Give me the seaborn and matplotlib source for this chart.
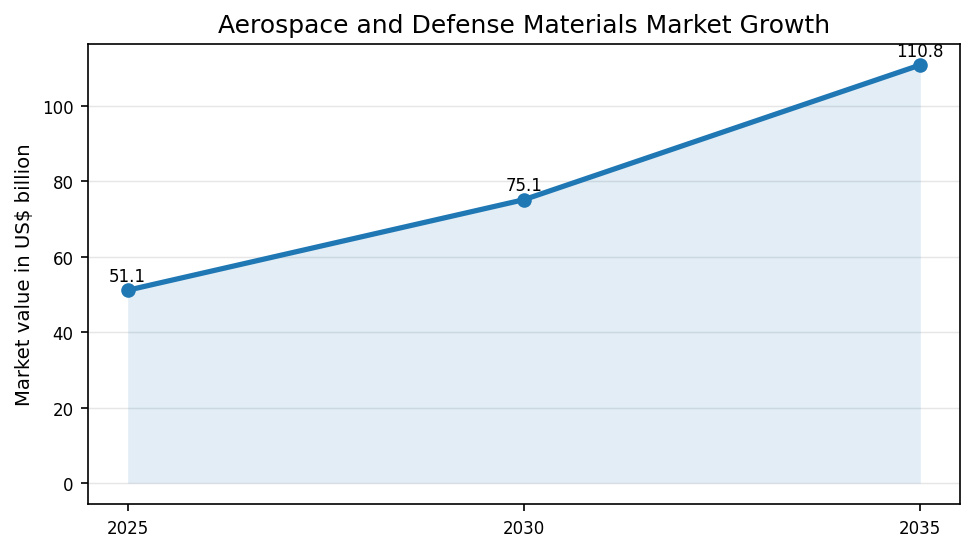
import numpy as np
import pandas as pd
import seaborn as sns
from matplotlib import pyplot as plt

years = [2025, 2030, 2035]
values = [51.1, 75.1, 110.8]

df = pd.DataFrame({"Year": years, "Value": values})

fig, ax = plt.subplots(figsize=(6.5, 3.6733), dpi=150)
fig.subplots_adjust(left=0.0903, right=0.9846, top=0.9183, bottom=0.0835)

ax.fill_between(df["Year"], df["Value"], color="#1f77b4", alpha=0.13, linewidth=0)
sns.lineplot(data=df, x="Year", y="Value", ax=ax, color="#1f77b4",
             linewidth=2.5, marker="o", markersize=7, markeredgewidth=0)

for x, y in zip(years, values):
    ax.annotate(f"{y:.1f}", (x, y), xytext=(0, 2.5), textcoords="offset points",
                ha="center", va="bottom", fontsize=8)

ax.set_xticks(years)
ax.tick_params(labelsize=8)
ax.yaxis.grid(True, color="#e0e0e0", linewidth=0.7, alpha=0.8)
ax.set_axisbelow(True)
ax.set_xlabel("")
ax.set_ylabel("Market value in US$ billion", fontsize=9.5)
ax.set_title("Aerospace and Defense Materials Market Growth", fontsize=12)

plt.savefig("out.png")
